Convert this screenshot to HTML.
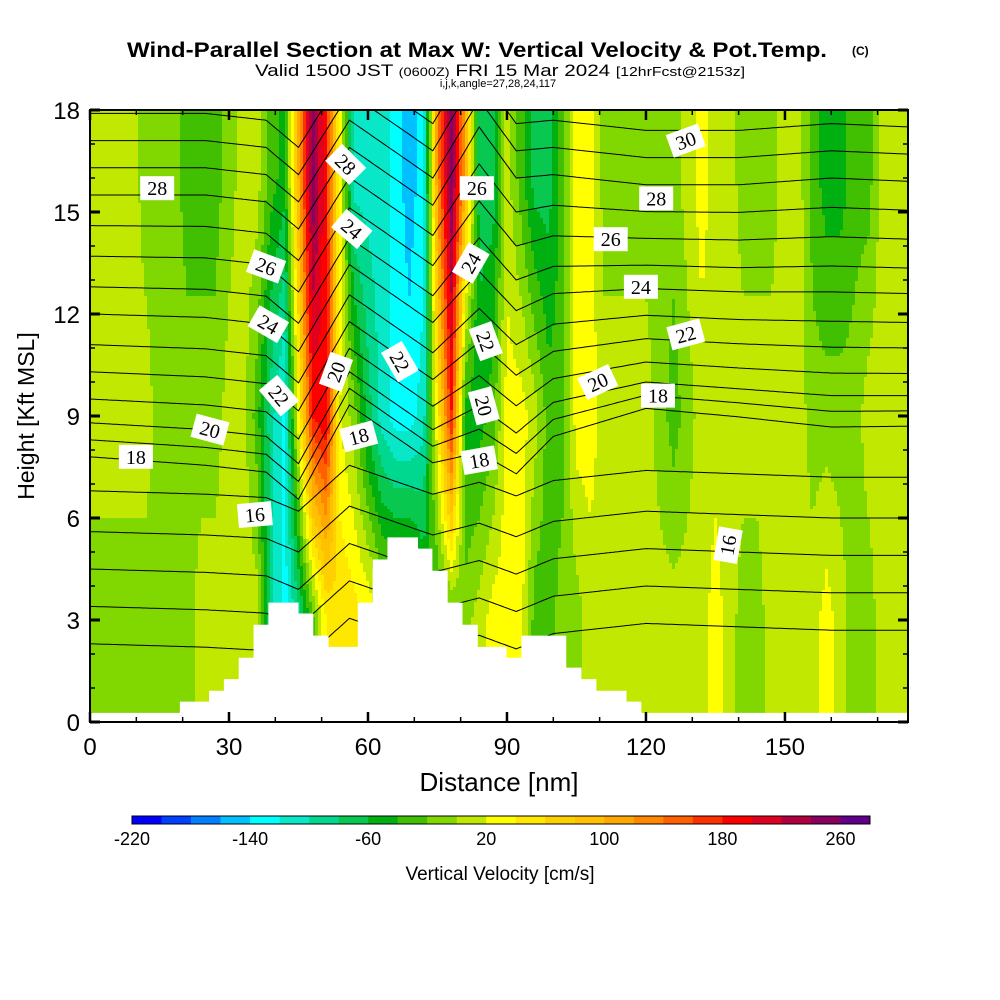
<!DOCTYPE html>
<html><head><meta charset="utf-8"><style>
body{margin:0;background:#fff;}
svg{display:block;font-family:"Liberation Sans",sans-serif;}
</style></head><body>
<svg id="chart" width="1000" height="1000" viewBox="0 0 1000 1000">
<rect width="1000" height="1000" fill="#fff"/>
<g>
<text x="127" y="57" font-size="21" font-weight="bold" textLength="700" lengthAdjust="spacingAndGlyphs">Wind-Parallel Section at Max W: Vertical Velocity &amp; Pot.Temp.</text>
<text x="852" y="55" font-size="12" font-weight="bold">(C)</text>
<text x="255" y="76" font-size="17" textLength="490" lengthAdjust="spacingAndGlyphs">Valid 1500 JST <tspan font-size="12">(0600Z)</tspan> FRI 15 Mar 2024 <tspan font-size="13">[12hrFcst@2153z]</tspan></text>
<text x="498" y="87" text-anchor="middle" font-size="11">i,j,k,angle=27,28,24,117</text>
</g>
<defs><clipPath id="pc"><rect x="90" y="110" width="818" height="612"/></clipPath></defs>
<g id="field" clip-path="url(#pc)"></g>
<g id="contours" clip-path="url(#pc)"></g>
<g id="terrain" clip-path="url(#pc)"></g>
<g id="labels"></g>
<rect x="90" y="110" width="818" height="612" fill="none" stroke="#000" stroke-width="2"/>
<g id="axes"></g>
<text x="499" y="791" text-anchor="middle" font-size="26">Distance [nm]</text>
<text transform="translate(34,416) rotate(-90)" text-anchor="middle" font-size="23">Height [Kft MSL]</text>
<g id="cbar"></g>
<text x="500" y="880" text-anchor="middle" font-size="19">Vertical Velocity [cm/s]</text>
</svg>
<script>
const NS="http://www.w3.org/2000/svg";
// ---- data ----
const catNm=[0,3,6,9,12,15,18,21,24,27,30,33,36,39,42,45,48,51,54,57,60,63,66,69,72,75,78,81,84,87,90,93,96,99,102,105,108,111,114,117,120,123,126,129,132,135,138,141,144,147,150,153,156,159,162,165,168,171,174,177];
const levelKft=[16,9,3];
const velHigh=[10,10,10,10,-10,-10,-10,-30,-30,-30, -10,10,10,-30,-50,100,260,180,30,-110, -110,-110,-130,-150,-130,120,260,100,-70,-70, 10,-30,-70,-70,-30,30,30,-10,-10,-10, -10,-10,-10,10,30,10,10,-10,-10,-10, 10,10,-30,-50,-50,-30,-30,10,10,10];
const velMid=[10,10,10,10,10,-10,-10,-10,-10,-10, 10,10,-30,-90,-130,30,180,200,20,-10, -70,-110,-130,-130,-110,40,180,-50,-50,-30, 30,30,10,-30,-30,30,30,10,10,10, 10,-10,-30,-10,10,10,10,10,10,10, 10,10,-10,-10,-10,-10,10,10,10,10];
const velLow=[-10,-10,-10,-10,-10,-10,-10,-10,10,10, 10,10,10,-90,-130,-90,-30,40,60,50, 40,10,10,10,-30,-50,-30,-10,10,30, 30,30,-30,-30,-10,-10,10,10,10,10, 10,10,10,10,10,30,10,-10,-10,10, 10,10,10,30,10,-10,-10,10,10,10];
const cbColors=["#0000ff","#0040ff","#0080ff","#00c0ff","#00ffff","#08e8c8","#00d890","#08c850","#00b010","#40c000","#80d800","#c0e800","#ffff00","#ffe800","#ffd000","#ffc000","#ffa800","#ff8800","#ff6000","#ff3000","#ff0000","#e00020","#b00040","#880060","#600088"];
const cbTicks=[-220,-140,-60,20,100,180,260];
const thetaVals=[13,14,15,16,17,18,19,20,21,22,23,24,25,26,27,28,29,30,31];
const thetaBase=[2.3,3.4,4.5,5.6,6.8,7.8,8.3,8.8,9.5,10.3,11.1,12.0,12.8,13.7,14.6,15.5,16.3,17.1,17.9];
const dispNm=[0,25,38,45,56,74,84,92,100,120,140,160,177];
const dispUpper=[0,0,-0.2,-1.0,1.4,-0.3,2.0,0.5,0.6,0.3,0.3,0.5,0.4];
const dispLower=[0,-0.2,-0.4,-1.2,1.5,-0.2,0.5,-0.3,0.6,1.2,1.0,0.8,0.8];
const terrStart=[19.4,25.7,28.9,32.1,35.3,38.5,45.0,48.2,51.5,57.8,61.0,64.2,70.8,73.9,77.2,80.4,83.7,89.9,93.1,102.8,106.1,109.3,115.8];
const terrEnd=119.0;
const terrKft=[0.6,0.92,1.26,1.89,2.86,3.51,3.19,2.54,2.21,3.51,4.78,5.43,5.1,4.45,3.51,2.86,2.21,1.89,2.54,1.6,1.26,0.92,0.6];
const floorKft=0.27;
const labelTheta=[28,26,24,22,20,18,16,28,24,20,18,22,26,24,22,20,18,30,28,26,24,22,20,18,16];
const labelNm=[14.5,38,38.5,40.8,25.9,9.9,35.6,55.2,56.5,53.1,58,66.9,83.5,82.2,85.4,85,84,128.6,122.2,112.4,118.9,128.6,109.6,122.6,137.7];
const labelKft=[15.7,13.4,11.7,9.6,8.6,7.8,6.1,16.4,14.5,10.3,8.4,10.6,15.7,13.5,11.2,9.3,7.7,17.1,15.4,14.2,12.8,11.4,10.0,9.6,5.2];
const labelRot=[0,20,30,50,15,0,-5,45,40,-70,-15,60,0,-60,70,75,-10,-20,0,0,0,-15,-25,0,-80];
// ---- scales ----
const X0=90,X1=908,Y0=722,Y1=110;
const xPx=nm=>X0+nm*4.633;
const yPx=k=>Y0-k*34;
const nmOf=px=>(px-X0)/4.633;
const kOf=py=>(Y0-py)/34;
function interpArr(xs,vs,x){
  if(x<=xs[0])return vs[0];
  for(let i=1;i<xs.length;i++){if(x<=xs[i]){const t=(x-xs[i-1])/(xs[i]-xs[i-1]);return vs[i-1]+t*(vs[i]-vs[i-1]);}}
  return vs[vs.length-1];
}
function vel(nm,k){
  const h=interpArr(catNm,velHigh,nm),m=interpArr(catNm,velMid,nm),l=interpArr(catNm,velLow,nm);
  if(k>=levelKft[0])return h;
  if(k>=levelKft[1]){const t=(k-levelKft[1])/(levelKft[0]-levelKft[1]);return m+t*(h-m);}
  if(k>=levelKft[2]){const t=(k-levelKft[2])/(levelKft[1]-levelKft[2]);return l+t*(m-l);}
  return l;
}
function binOf(v){return Math.max(0,Math.min(24,Math.floor((v+220)/20)));}
// ---- field ----
const field=document.getElementById('field');
const SX=3,SY=3;
for(let px=X0;px<X1;px+=SX){
  let runStart=Y1,runBin=-1;
  const nm=nmOf(px+SX/2);
  for(let py=Y1;py<=Y0;py+=SY){
    const b=py<Y0?binOf(vel(nm,kOf(py+SY/2))):-2;
    if(b!==runBin){
      if(runBin>=0){
        const r=document.createElementNS(NS,'rect');
        r.setAttribute('x',px);r.setAttribute('y',runStart);r.setAttribute('width',SX+0.5);r.setAttribute('height',py-runStart+0.5);
        r.setAttribute('fill',cbColors[runBin]);
        
        
        field.appendChild(r);
      }
      runBin=b;runStart=py;
    }
  }
}
// ---- contours ----
const cg=document.getElementById('contours');
thetaVals.forEach((th,i)=>{
  let pts=[];
  for(let nm=0;nm<=178;nm+=0.5){
    const up=interpArr(dispNm,dispUpper,nm),lo=interpArr(dispNm,dispLower,nm);
    let d;
    if(th<18){d=lo*0.5;}else{const t=Math.max(-0.3,Math.min(1,(th-20)/8));d=lo*(1-t)+up*t;}
    pts.push(xPx(nm).toFixed(1)+','+yPx(thetaBase[i]+d).toFixed(1));
  }
  const p=document.createElementNS(NS,'polyline');
  p.setAttribute('points',pts.join(' '));
  p.setAttribute('fill','none');p.setAttribute('stroke','#000');p.setAttribute('stroke-width','1');
  
  
  cg.appendChild(p);
});
// ---- terrain ----
const tg=document.getElementById('terrain');
let d='M'+xPx(-1)+','+(Y0+2)+' L'+xPx(-1)+','+yPx(floorKft);
terrStart.forEach((s,i)=>{
  const e=i+1<terrStart.length?terrStart[i+1]:terrEnd;
  d+=' L'+xPx(s)+','+yPx(floorKft)+' L'+xPx(s)+','+yPx(terrKft[i])+' L'+xPx(e)+','+yPx(terrKft[i])+' L'+xPx(e)+','+yPx(floorKft);
});
d+=' L'+xPx(180)+','+yPx(floorKft)+' L'+xPx(180)+','+(Y0+2)+' Z';
const tpath=document.createElementNS(NS,'path');
tpath.setAttribute('d',d);tpath.setAttribute('fill','#fff');


tg.appendChild(tpath);
// ---- labels ----
const lg=document.getElementById('labels');
labelTheta.forEach((th,i)=>{
  const g=document.createElementNS(NS,'g');
  g.setAttribute('transform','translate('+xPx(labelNm[i]).toFixed(1)+','+yPx(labelKft[i]).toFixed(1)+') rotate('+labelRot[i]+')');
  
  
  const r=document.createElementNS(NS,'rect');
  r.setAttribute('x',-17);r.setAttribute('y',-12);r.setAttribute('width',34);r.setAttribute('height',24);r.setAttribute('fill','#fff');
  g.appendChild(r);
  const t=document.createElementNS(NS,'text');
  t.setAttribute('x',0);t.setAttribute('y',7);t.setAttribute('text-anchor','middle');t.setAttribute('font-size','20');
  t.setAttribute('font-family','"Liberation Serif",serif');
  t.textContent=th;
  g.appendChild(t);
  lg.appendChild(g);
});
// ---- axes ----
const ax=document.getElementById('axes');
function line(x1,y1,x2,y2,w,name){const l=document.createElementNS(NS,'line');l.setAttribute('x1',x1);l.setAttribute('y1',y1);l.setAttribute('x2',x2);l.setAttribute('y2',y2);l.setAttribute('stroke','#000');l.setAttribute('stroke-width',w);


ax.appendChild(l);}
function txt(x,y,s,size,anchor,name){const t=document.createElementNS(NS,'text');t.setAttribute('x',x);t.setAttribute('y',y);t.setAttribute('font-size',size);t.setAttribute('text-anchor',anchor);t.textContent=s;


ax.appendChild(t);}
for(let k=0;k<=18;k++){
  const y=yPx(k),len=k%3===0?10:5,w=k%3===0?3:1.5;
  line(X0,y,X0+len,y,w,'y-tick');line(X1-len,y,X1,y,w,'y-tick');
  if(k%3===0)txt(80,y+9,String(k),24,'end','y-tick-label');
}
for(let nm=0;nm<=176;nm+=10){
  const x=xPx(nm),maj=nm%30===0,len=maj?10:5,w=maj?2.5:1.5;
  line(x,Y0,x,Y0-len,w,'x-tick');line(x,Y1,x,Y1+len,w,'x-tick');
  if(maj)txt(x,755,String(nm),24,'middle','x-tick-label');
}
// ---- colorbar ----
const cb=document.getElementById('cbar');
const CB0=132,CBW=738/25;
cbColors.forEach((c,i)=>{
  const r=document.createElementNS(NS,'rect');
  r.setAttribute('x',CB0+i*CBW);r.setAttribute('y',816);r.setAttribute('width',CBW+0.3);r.setAttribute('height',8);r.setAttribute('fill',c);
  
  
  cb.appendChild(r);
});
const cbo=document.createElementNS(NS,'rect');
cbo.setAttribute('x',CB0);cbo.setAttribute('y',816);cbo.setAttribute('width',738);cbo.setAttribute('height',8);cbo.setAttribute('fill','none');cbo.setAttribute('stroke','#000');


cb.appendChild(cbo);
cbTicks.forEach(v=>{
  const t=document.createElementNS(NS,'text');
  t.setAttribute('x',CB0+(v+220)/20*CBW);t.setAttribute('y',845);t.setAttribute('font-size','18');t.setAttribute('text-anchor','middle');
  t.textContent=v;
  
  
  cb.appendChild(t);
});
</script>
</body></html>
